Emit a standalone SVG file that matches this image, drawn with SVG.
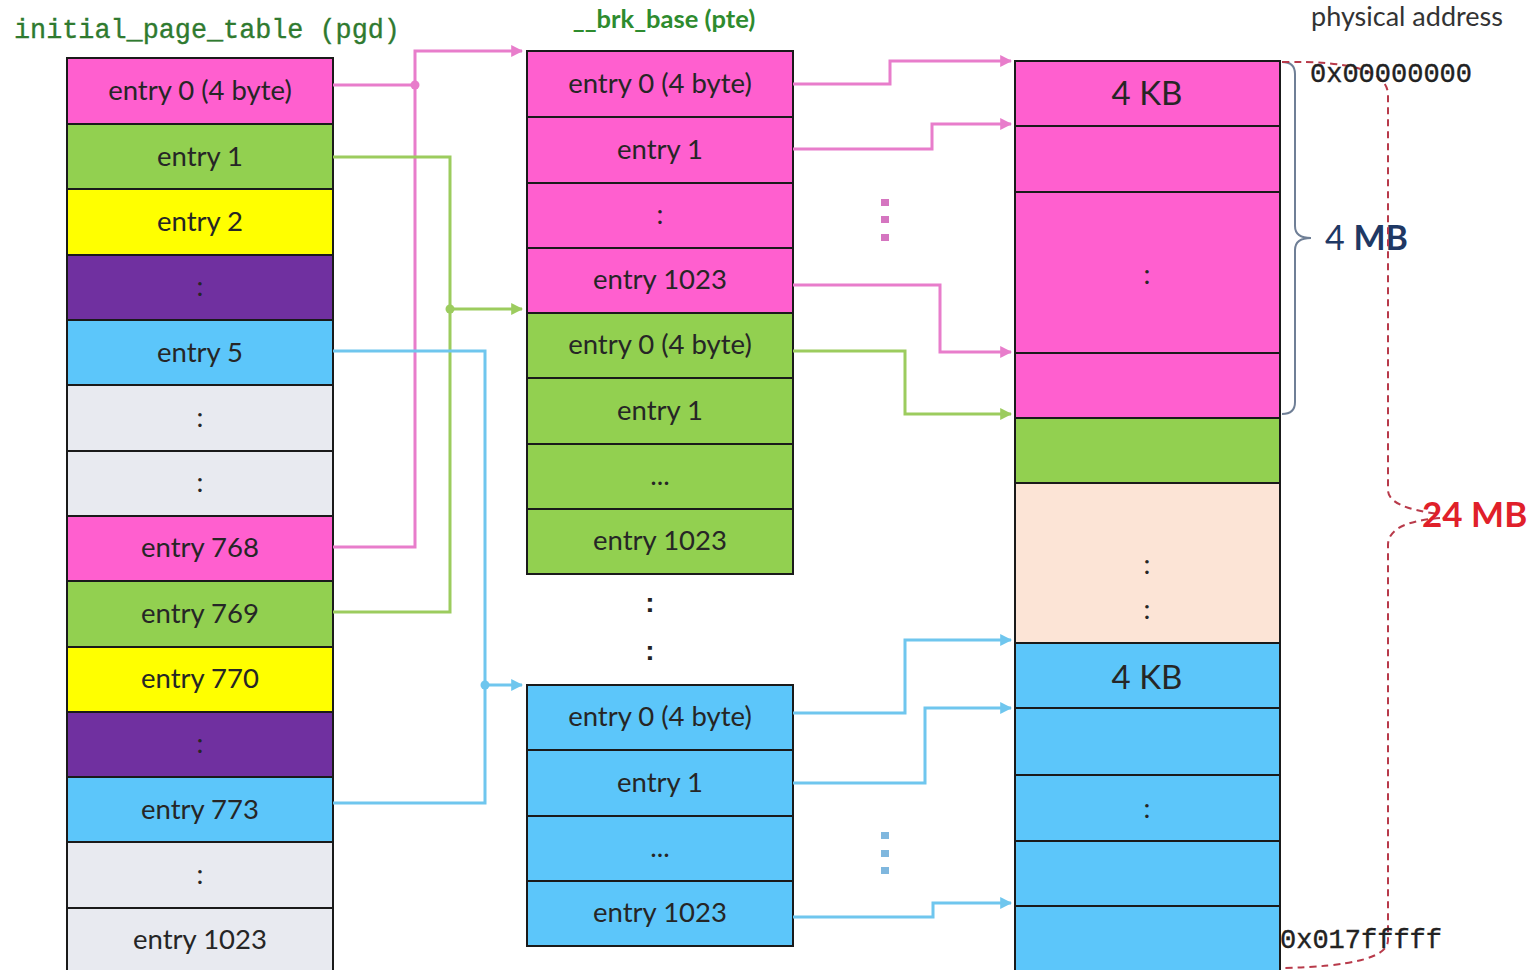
<svg xmlns="http://www.w3.org/2000/svg" width="1532" height="970" viewBox="0 0 1532 970">
<style>
.c{stroke:#1a1a1a;stroke-width:2}
.pk{fill:#ff5fcf}.gr{fill:#92d050}.ye{fill:#ffff00}.pu{fill:#7030a0}.bl{fill:#5cc6fa}.gy{fill:#e8eaf0}.pe{fill:#fce4d6}
.t{font-family:Lato,"Liberation Sans",sans-serif;font-size:27.5px;fill:#262626;text-anchor:middle}
.big{font-size:33px}
.dot{font-family:"Liberation Sans",sans-serif;font-size:28px;font-weight:bold;fill:#222;text-anchor:middle}
.ln{fill:none;stroke-width:3}
.p{stroke:#e87dcb}.g{stroke:#9ccc5e}.b{stroke:#6fc6ee}
.mono{font-family:"Liberation Mono",monospace;font-size:27px;fill:#222;stroke:#222;stroke-width:0.4}
</style>
<defs>
<marker id="ap" viewBox="0 0 10 10" refX="9" refY="5" markerWidth="4" markerHeight="4" orient="auto"><path d="M0,0 L10,5 L0,10 z" fill="#e87dcb"/></marker>
<marker id="ag" viewBox="0 0 10 10" refX="9" refY="5" markerWidth="4" markerHeight="4" orient="auto"><path d="M0,0 L10,5 L0,10 z" fill="#9ccc5e"/></marker>
<marker id="ab" viewBox="0 0 10 10" refX="9" refY="5" markerWidth="4" markerHeight="4" orient="auto"><path d="M0,0 L10,5 L0,10 z" fill="#6fc6ee"/></marker>
</defs>
<rect width="1532" height="970" fill="#fff"/>

<text x="14" y="38" font-family="'Liberation Mono',monospace" font-size="26.8" fill="#2f7a2f" stroke="#2f7a2f" stroke-width="0.35">initial_page_table (pgd)</text>
<text x="664" y="28" font-family="Lato,'Liberation Sans',sans-serif" font-size="25.5" font-weight="bold" fill="#2e8b2e" text-anchor="middle">__brk_base (pte)</text>
<text x="1407" y="26" font-family="Lato,'Liberation Sans',sans-serif" font-size="27" fill="#333" text-anchor="middle">physical address</text>

<g id="pgd">
<rect class="pk c" x="67" y="58" width="266" height="66"/>
<rect class="gr c" x="67" y="124" width="266" height="65"/>
<rect class="ye c" x="67" y="189" width="266" height="66"/>
<rect class="pu c" x="67" y="255" width="266" height="65"/>
<rect class="bl c" x="67" y="320" width="266" height="65"/>
<rect class="gy c" x="67" y="385" width="266" height="66"/>
<rect class="gy c" x="67" y="451" width="266" height="65"/>
<rect class="pk c" x="67" y="516" width="266" height="65"/>
<rect class="gr c" x="67" y="581" width="266" height="66"/>
<rect class="ye c" x="67" y="647" width="266" height="65"/>
<rect class="pu c" x="67" y="712" width="266" height="65"/>
<rect class="bl c" x="67" y="777" width="266" height="65"/>
<rect class="gy c" x="67" y="842" width="266" height="66"/>
<rect class="gy c" x="67" y="908" width="266" height="70"/>
<text class="t" x="200" y="100">entry 0 (4 byte)</text>
<text class="t" x="200" y="166">entry 1</text>
<text class="t" x="200" y="231">entry 2</text>
<text class="t" x="200" y="296" fill="#3a1060">:</text>
<text class="t" x="200" y="362">entry 5</text>
<text class="t" x="200" y="427">:</text>
<text class="t" x="200" y="492">:</text>
<text class="t" x="200" y="557">entry 768</text>
<text class="t" x="200" y="623">entry 769</text>
<text class="t" x="200" y="688">entry 770</text>
<text class="t" x="200" y="753" fill="#3a1060">:</text>
<text class="t" x="200" y="819">entry 773</text>
<text class="t" x="200" y="884">:</text>
<text class="t" x="200" y="949">entry 1023</text>
</g>

<g id="pte">
<rect class="pk c" x="527" y="51" width="266" height="66"/>
<rect class="pk c" x="527" y="117" width="266" height="66"/>
<rect class="pk c" x="527" y="183" width="266" height="65"/>
<rect class="pk c" x="527" y="248" width="266" height="65"/>
<rect class="gr c" x="527" y="313" width="266" height="65"/>
<rect class="gr c" x="527" y="378" width="266" height="66"/>
<rect class="gr c" x="527" y="444" width="266" height="65"/>
<rect class="gr c" x="527" y="509" width="266" height="65"/>
<rect class="bl c" x="527" y="685" width="266" height="65"/>
<rect class="bl c" x="527" y="750" width="266" height="66"/>
<rect class="bl c" x="527" y="816" width="266" height="65"/>
<rect class="bl c" x="527" y="881" width="266" height="65"/>
<text class="t" x="660" y="93">entry 0 (4 byte)</text>
<text class="t" x="660" y="159">entry 1</text>
<text class="t" x="660" y="224">:</text>
<text class="t" x="660" y="289">entry 1023</text>
<text class="t" x="660" y="354">entry 0 (4 byte)</text>
<text class="t" x="660" y="420">entry 1</text>
<text class="t" x="660" y="485">...</text>
<text class="t" x="660" y="550">entry 1023</text>
<text class="dot" x="650" y="612">:</text>
<text class="dot" x="650" y="660">:</text>
<text class="t" x="660" y="726">entry 0 (4 byte)</text>
<text class="t" x="660" y="792">entry 1</text>
<text class="t" x="660" y="857">...</text>
<text class="t" x="660" y="922">entry 1023</text>
</g>

<g id="phys">
<rect class="pk c" x="1015" y="61" width="265" height="65"/>
<rect class="pk c" x="1015" y="126" width="265" height="66"/>
<rect class="pk c" x="1015" y="192" width="265" height="161"/>
<rect class="pk c" x="1015" y="353" width="265" height="65"/>
<rect class="gr c" x="1015" y="418" width="265" height="65"/>
<rect class="pe c" x="1015" y="483" width="265" height="160"/>
<rect class="bl c" x="1015" y="643" width="265" height="65"/>
<rect class="bl c" x="1015" y="708" width="265" height="67"/>
<rect class="bl c" x="1015" y="775" width="265" height="66"/>
<rect class="bl c" x="1015" y="841" width="265" height="65"/>
<rect class="bl c" x="1015" y="906" width="265" height="70"/>
<text class="t big" x="1147" y="105">4 KB</text>
<text class="t" x="1147" y="284">:</text>
<text class="t" x="1147" y="574">:</text>
<text class="t" x="1147" y="619">:</text>
<text class="t big" x="1147" y="689">4 KB</text>
<text class="t" x="1147" y="818">:</text>
</g>

<g id="connectors">
<path class="ln p" d="M333,85 H415"/>
<path class="ln p" d="M333,547 H415 V51 H522" marker-end="url(#ap)"/>
<circle cx="415" cy="85" r="4.5" fill="#e87dcb"/>
<path class="ln g" d="M333,157 H450 V612 H333"/>
<path class="ln g" d="M450,309 H522" marker-end="url(#ag)"/>
<circle cx="450" cy="309" r="4.5" fill="#9ccc5e"/>
<path class="ln b" d="M333,351 H485 V803 H333"/>
<path class="ln b" d="M485,685 H522" marker-end="url(#ab)"/>
<circle cx="485" cy="685" r="4.5" fill="#6fc6ee"/>

<path class="ln p" d="M793,84 H890 V61 H1011" marker-end="url(#ap)"/>
<path class="ln p" d="M793,149 H932 V124 H1011" marker-end="url(#ap)"/>
<path class="ln p" d="M793,285 H940 V352 H1011" marker-end="url(#ap)"/>
<path class="ln g" d="M793,351 H905 V414 H1011" marker-end="url(#ag)"/>
<path class="ln b" d="M793,713 H905 V640 H1011" marker-end="url(#ab)"/>
<path class="ln b" d="M793,783 H925 V708 H1011" marker-end="url(#ab)"/>
<path class="ln b" d="M793,917 H933 V903 H1011" marker-end="url(#ab)"/>
</g>

<g id="ellipsis" fill="#d575c0">
<rect x="881" y="199" width="8" height="7"/>
<rect x="881" y="216" width="8" height="7"/>
<rect x="881" y="234" width="8" height="7"/>
</g>
<g id="ellipsis2" fill="#7fb7de">
<rect x="881" y="832" width="8" height="7"/>
<rect x="881" y="850" width="8" height="7"/>
<rect x="881" y="867" width="8" height="7"/>
</g>

<g id="brace">
<path d="M1282,62 Q1295,62 1295,74 V226 Q1295,238 1311,238 Q1295,238 1295,250 V402 Q1295,414 1282,414" fill="none" stroke="#6f7f96" stroke-width="2"/>
<text x="1325" y="250" font-family="Lato,'Liberation Sans',sans-serif" font-size="34" fill="#1f3864">4 <tspan font-weight="bold">MB</tspan></text>
</g>

<g id="span24">
<path d="M1282,62 Q1388,60 1388,95 V490 Q1388,508 1440,514 M1440,518 Q1388,522 1388,545 V940 Q1388,966 1282,968" fill="none" stroke="#b83a4a" stroke-width="2" stroke-dasharray="7,5"/>
<text x="1422" y="527" font-family="Lato,'Liberation Sans',sans-serif" font-size="35" font-weight="bold" fill="#e0202a">24 MB</text>
</g>

<text class="mono" x="1310" y="82">0x00000000</text>
<text class="mono" x="1280" y="948">0x017fffff</text>
</svg>
